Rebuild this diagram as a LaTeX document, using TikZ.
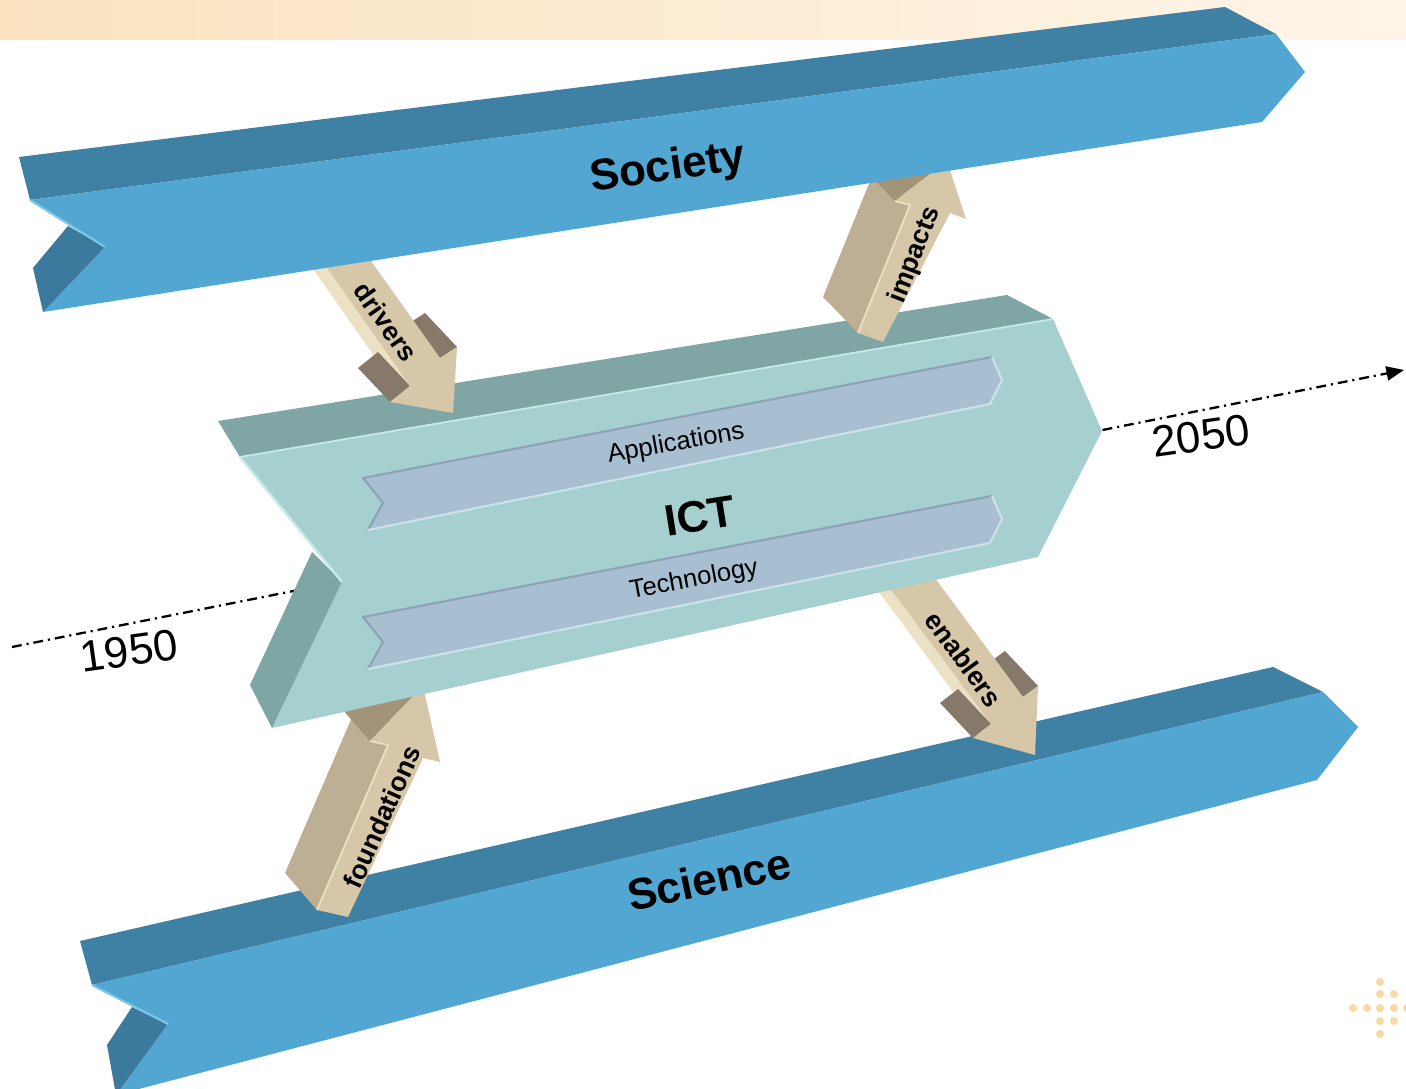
\documentclass[tikz,border=0pt]{standalone}
\usepackage{fontspec}
\setmainfont{Liberation Sans}
\usetikzlibrary{arrows.meta,calc}
\definecolor{bandA}{HTML}{FBE3C0}
\definecolor{bandB}{HTML}{FEF5E8}
\definecolor{dotc}{HTML}{F9D8A4}
\definecolor{barFront}{HTML}{52A6D2}
\definecolor{barTop}{HTML}{3F81A5}
\definecolor{barNotch}{HTML}{3C7A9D}
\definecolor{barHi}{HTML}{7CC6EA}
\definecolor{ictFront}{HTML}{A5D0CF}
\definecolor{ictTop}{HTML}{7FA6A5}
\definecolor{ictNotch}{HTML}{7DA6A5}
\definecolor{ictHi}{HTML}{C6EAEA}
\definecolor{stripe}{HTML}{A7BFD0}
\definecolor{stripeDk}{HTML}{8CA3B5}
\definecolor{stripeLt}{HTML}{CDE1EA}
\definecolor{tanFront}{HTML}{D5C7A8}
\definecolor{tanLight}{HTML}{ECE0C5}
\definecolor{tanDark}{HTML}{86796A}
\definecolor{tanSide}{HTML}{BDAF93}
\definecolor{tanHead}{HTML}{A29379}
\tikzset{
  bigtxt/.style={font=\bfseries\fontsize{12.5}{15}\selectfont, inner sep=0pt},
  yeartxt/.style={font=\fontsize{12.5}{15}\selectfont, inner sep=0pt},
  smalltxt/.style={font=\fontsize{7.3}{9}\selectfont, inner sep=0pt},
  arrtxt/.style={font=\bfseries\fontsize{7.6}{9}\selectfont, inner sep=0pt},
  timeline/.style={line width=0.65pt, dash pattern=on 2.8pt off 1.4pt on 0.6pt off 1.4pt},
}
\begin{document}
\begin{tikzpicture}[x=0.01cm,y=-0.01cm,line join=round]
\useasboundingbox (0,0) rectangle (1406,1089);
\fill[white] (0,0) rectangle (1406,1089);
% top band
\shade[left color=bandA,right color=bandB] (0,0) rectangle (1406,40);
% logo dots
\foreach \p in {(1380,982),(1380,994),(1394,994),(1353,1008),(1367,1008),(1380,1008),(1394,1008),(1407,1008),(1380,1021),(1394,1021),(1380,1034)}
  \fill[dotc] \p circle (4);
% timeline
\coordinate (tl0) at (12,647);
\coordinate (tl1) at (1404,370);
\draw[timeline,-{Triangle[length=5pt,width=4pt]}] (tl0) -- (tl1);

% ===== Science bar =====
\fill[barTop] (80,941) -- (1273,667) -- (1323,692) -- (92,985) -- cycle;
\fill[barFront] (92,985) -- (1323,692) -- (1358,727) -- (1317,780) -- (116,1095) -- (168,1024) -- cycle;
\fill[barNotch] (132,1007) -- (168,1024) -- (116,1095) -- (107,1045) -- cycle;
\draw[barHi,line width=0.6pt] (92,985) -- (168,1024);

% ===== foundations arrow (up) =====
\coordinate (C1) at (317,910); \coordinate (C2) at (348,917);
\coordinate (C3) at (423,758); \coordinate (C4) at (440,762);
\coordinate (C5) at (423,686); \coordinate (C6) at (370,741);
\coordinate (C7) at (388,745);
\fill[tanSide] (C1) -- (C7) -- (356,708) -- (285,873) -- cycle;
\fill[tanHead] (C7) -- (C6) -- (338,704) -- (356,708) -- cycle;
\fill[tanHead] (C6) -- (C5) -- (391,649) -- (338,704) -- cycle;
\fill[tanFront] (C1) -- (C2) -- (C3) -- (C4) -- (C5) -- (C6) -- (C7) -- cycle;
\draw[tanLight,line width=0.5pt] (C1) -- (C7) -- (C6);
\node[arrtxt,rotate=66] (lfound) at (382,817) {foundations};

% ===== enablers arrow (down) =====
\coordinate (D1) at (881,576); \coordinate (D2) at (926,566);
\coordinate (D3) at (1023,697); \coordinate (D4) at (1038,686);
\coordinate (D5) at (1035,755); \coordinate (D6) at (973,738);
\coordinate (D7) at (991,724);
\fill[tanLight] (D1) -- (D7) -- (958,689) -- (848,541) -- cycle;
\fill[tanLight] (D1) -- (D7) -- (980,728) -- (870,580) -- cycle;
\fill[tanDark] (D7) -- (D6) -- (940,703) -- (958,689) -- cycle;
\fill[tanDark] (D3) -- (D4) -- (1005,651) -- (990,662) -- cycle;
\fill[tanFront] (D1) -- (D2) -- (D3) -- (D4) -- (D5) -- (D6) -- (D7) -- cycle;
\node[arrtxt,rotate=-54] (lenab) at (964,659) {enablers};

% ===== ICT block =====
\fill[ictTop] (218,421) -- (1007,295) -- (1053,319) -- (240,457) -- cycle;
\fill[ictFront] (240,457) -- (1053,319) -- (1102,431) -- (1038,557) -- (272,728) -- (342,582) -- cycle;
\fill[ictNotch] (312,552) -- (342,582) -- (272,728) -- (250,685) -- cycle;
\draw[ictHi,line width=0.7pt] (240,457) -- (342,582);
\draw[ictHi,line width=0.5pt] (240,457) -- (1053,319);
% stripes
\foreach \dy in {0,139}{
  \fill[stripe] (363,478+\dy) -- (992,357+\dy) -- (1002,380+\dy) -- (990,404+\dy) -- (368,530+\dy) -- (383,503+\dy) -- cycle;
  \draw[stripeDk,line width=0.6pt] (368,530+\dy) -- (383,503+\dy) -- (363,478+\dy) -- (992,357+\dy);
  \draw[stripeLt,line width=0.6pt] (992,357+\dy) -- (1002,380+\dy) -- (990,404+\dy) -- (368,530+\dy);
}
\node[smalltxt,rotate=10] (app) at (676,444) {Applications};
\node[smalltxt,rotate=10.5] (tech) at (694,580) {Technology};
\node[bigtxt,rotate=9] (ict) at (700,516) {ICT};

% ===== drivers arrow (down) =====
\coordinate (A1) at (316,252); \coordinate (A2) at (361,247);
\coordinate (A3) at (440,358); \coordinate (A4) at (457,347);
\coordinate (A5) at (453,413); \coordinate (A6) at (390,402);
\coordinate (A7) at (410,386);
\fill[tanLight] (A1) -- (A7) -- (378,352) -- (284,218) -- cycle;
\fill[tanLight] (A1) -- (A7) -- (398,390) -- (304,256) -- cycle;
\fill[tanDark] (A7) -- (A6) -- (358,368) -- (378,352) -- cycle;
\fill[tanDark] (A3) -- (A4) -- (425,313) -- (408,324) -- cycle;
\fill[tanFront] (A1) -- (A2) -- (A3) -- (A4) -- (A5) -- (A6) -- (A7) -- cycle;
\node[arrtxt,rotate=-55] (ldriv) at (386,322) {drivers};

% ===== impacts arrow (up) =====
\coordinate (B1) at (858,333); \coordinate (B2) at (883,342);
\coordinate (B3) at (950,213); \coordinate (B4) at (966,219);
\coordinate (B5) at (947,161); \coordinate (B6) at (895,201);
\coordinate (B7) at (910,205);
\fill[tanSide] (B1) -- (B7) -- (875,169) -- (823,297) -- cycle;
\fill[tanHead] (B7) -- (B6) -- (860,165) -- (875,169) -- cycle;
\fill[tanHead] (B6) -- (B5) -- (912,125) -- (860,165) -- cycle;
\fill[tanFront] (B1) -- (B2) -- (B3) -- (B4) -- (B5) -- (B6) -- (B7) -- cycle;
\draw[tanLight,line width=0.5pt] (B1) -- (B7) -- (B6);
\node[arrtxt,rotate=69] (limp) at (915,255) {impacts};

% ===== Society bar =====
\fill[barTop] (19,157) -- (1225,7) -- (1276,34) -- (30,200) -- cycle;
\fill[barFront] (30,200) -- (1276,34) -- (1305,72) -- (1262,122) -- (43,312) -- (105,247) -- cycle;
\fill[barNotch] (68,226) -- (105,247) -- (43,312) -- (33,268) -- cycle;
\draw[barHi,line width=0.6pt] (30,200) -- (105,247);
\node[bigtxt,rotate=8.5] (soc) at (668,169) {Society};
\node[bigtxt,rotate=12] (sci) at (709,879) {Science};

% years
\node[yeartxt,rotate=8] (y1) at (129,651) {1950};
\node[yeartxt,rotate=8] (y2) at (1201,436) {2050};
\end{tikzpicture}
\end{document}
